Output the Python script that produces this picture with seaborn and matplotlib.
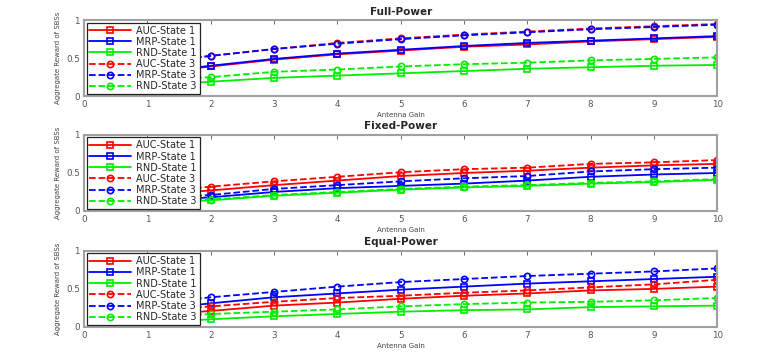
import seaborn as sns
import matplotlib.pyplot as plt
import pandas as pd

gain = [1, 2, 3, 4, 5, 6, 7, 8, 9, 10]
labels = ['AUC-State 1', 'MRP-State 1', 'RND-State 1', 'AUC-State 3', 'MRP-State 3', 'RND-State 3']

# Full-Power
full_auc1 = [0.30, 0.39, 0.48, 0.55, 0.60, 0.65, 0.68, 0.72, 0.75, 0.78]
full_mrp1 = [0.30, 0.40, 0.49, 0.56, 0.61, 0.66, 0.70, 0.73, 0.76, 0.79]
full_rnd1 = [0.13, 0.19, 0.24, 0.27, 0.30, 0.33, 0.36, 0.38, 0.40, 0.41]
full_auc3 = [0.43, 0.53, 0.62, 0.70, 0.76, 0.81, 0.85, 0.89, 0.92, 0.95]
full_mrp3 = [0.43, 0.53, 0.62, 0.69, 0.75, 0.80, 0.84, 0.88, 0.91, 0.94]
full_rnd3 = [0.20, 0.25, 0.32, 0.35, 0.39, 0.42, 0.44, 0.47, 0.49, 0.51]

# Fixed-Power
fixed_auc1 = [0.21, 0.27, 0.34, 0.40, 0.46, 0.50, 0.53, 0.57, 0.60, 0.62]
fixed_mrp1 = [0.13, 0.18, 0.25, 0.30, 0.33, 0.36, 0.40, 0.45, 0.48, 0.50]
fixed_rnd1 = [0.11, 0.14, 0.20, 0.24, 0.28, 0.31, 0.33, 0.36, 0.38, 0.41]
fixed_auc3 = [0.24, 0.32, 0.39, 0.45, 0.51, 0.55, 0.57, 0.62, 0.64, 0.67]
fixed_mrp3 = [0.16, 0.21, 0.29, 0.34, 0.39, 0.43, 0.46, 0.52, 0.55, 0.57]
fixed_rnd3 = [0.12, 0.15, 0.21, 0.25, 0.29, 0.32, 0.34, 0.37, 0.39, 0.42]

# Equal-Power
equal_auc1 = [0.15, 0.21, 0.28, 0.32, 0.37, 0.41, 0.44, 0.48, 0.50, 0.53]
equal_mrp1 = [0.22, 0.31, 0.39, 0.44, 0.49, 0.53, 0.57, 0.60, 0.63, 0.66]
equal_rnd1 = [0.05, 0.10, 0.14, 0.17, 0.20, 0.22, 0.23, 0.26, 0.27, 0.28]
equal_auc3 = [0.20, 0.27, 0.33, 0.38, 0.41, 0.45, 0.48, 0.52, 0.56, 0.62]
equal_mrp3 = [0.30, 0.39, 0.46, 0.53, 0.59, 0.63, 0.67, 0.70, 0.73, 0.77]
equal_rnd3 = [0.13, 0.17, 0.20, 0.23, 0.27, 0.30, 0.32, 0.33, 0.35, 0.38]

panels = [
    ('Full-Power', [full_auc1, full_mrp1, full_rnd1, full_auc3, full_mrp3, full_rnd3]),
    ('Fixed-Power', [fixed_auc1, fixed_mrp1, fixed_rnd1, fixed_auc3, fixed_mrp3, fixed_rnd3]),
    ('Equal-Power', [equal_auc1, equal_mrp1, equal_rnd1, equal_auc3, equal_mrp3, equal_rnd3]),
]

colors = ['#ff0000', '#0000ff', '#00ee00'] * 2
styles = ['-', '-', '-', '--', '--', '--']
markers = ['s', 's', 's', 'o', 'o', 'o']

sns.set_style('white')
plt.rcParams['font.family'] = ['DejaVu Sans']
plt.rcParams['legend.numpoints'] = 1

fig = plt.figure(figsize=(7.72, 3.6), dpi=100)
bottoms = [0.733, 0.414, 0.092]

for (title, series), b in zip(panels, bottoms):
    ax = fig.add_axes([0.109, b, 0.820, 0.211])
    for lab, vals, c, ls, m in zip(labels, series, colors, styles, markers):
        df = pd.DataFrame({'Antenna Gain': gain, 'Reward': vals})
        sns.lineplot(x='Antenna Gain', y='Reward', data=df, ax=ax, color=c,
                     linestyle=ls, marker=m, markersize=4.5, markerfacecolor='none',
                     markeredgecolor=c, markeredgewidth=1.2, linewidth=1.3, label=lab)
    ax.set_xlim(0, 10)
    ax.set_ylim(0, 1)
    ax.set_xticks(range(0, 11))
    ax.set_yticks([0, 0.5, 1])
    ax.set_yticklabels(['0', '0.5', '1'])
    ax.tick_params(direction='in', length=3, width=0.6, colors='#555555',
                   labelsize=6.3, top=True, right=True, pad=3)
    for sp in ax.spines.values():
        sp.set_color('#a0a0a0')
        sp.set_linewidth(1.5)
    ax.set_title(title, fontsize=7.5, fontweight='bold', pad=4)
    ax.set_xlabel('Antenna Gain', fontsize=5, color='#444444', labelpad=2)
    ax.set_ylabel('Aggregate Reward of SBSs', fontsize=5, color='#444444', labelpad=4)
    leg = ax.legend(loc='upper left', fontsize=7, frameon=True, fancybox=False,
                    framealpha=1, handlelength=4.3, borderpad=0.3, labelspacing=0.12,
                    handletextpad=0.5, borderaxespad=0.25)
    leg.get_frame().set_edgecolor('#222222')
    leg.get_frame().set_linewidth(0.9)

fig.savefig('out.png', dpi=100)
